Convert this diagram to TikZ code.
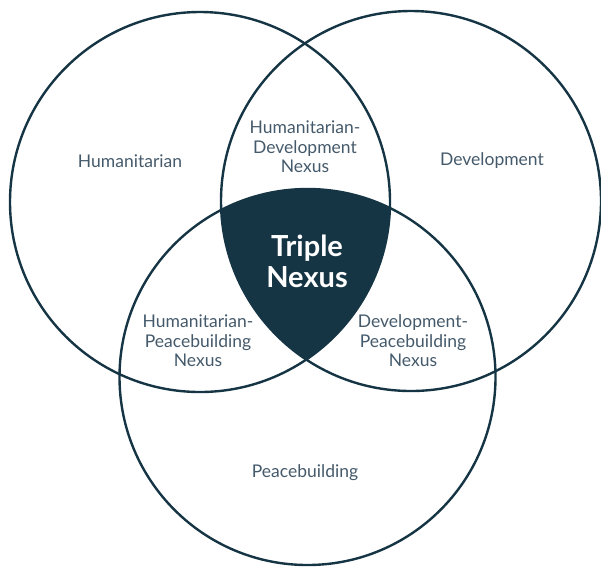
\documentclass[tikz,border=0pt]{standalone}
\usepackage{fontspec}
\setmainfont{Lato}
\definecolor{navy}{HTML}{163544}
\definecolor{txt}{HTML}{44596A}
\begin{document}
\begin{tikzpicture}[x=1pt,y=-1pt,
  ring/.style={draw=navy,line width=2.4pt},
  lbl/.style={text=txt,font=\fontsize{17.5}{19.5}\selectfont,align=center,inner sep=0pt},
  big/.style={text=white,font=\bfseries\fontsize{29}{31}\selectfont,align=center,inner sep=0pt}]
\useasboundingbox (0,0) rectangle (601,566);
\coordinate (cl) at (200,202);
\coordinate (cr) at (411,201);
\coordinate (cb) at (307.5,377);
\begin{scope}
  \clip (cl) circle (190);
  \clip (cr) circle (190);
  \fill[navy] (cb) circle (188);
\end{scope}
\draw[ring] (cl) circle (190);
\draw[ring] (cr) circle (190);
\draw[ring] (cb) circle (188);
\node[lbl] (hum) at (130,161) {Humanitarian};
\node[lbl] (dev) at (492,161) {Development};
\node[lbl] (pb) at (305,473) {Peacebuilding};
\node[lbl] (hd) at (305,147) {Humanitarian-\\Development\\Nexus};
\node[lbl] (hp) at (198,341) {Humanitarian-\\Peacebuilding\\Nexus};
\node[lbl] (dp) at (413,341) {Development-\\Peacebuilding\\Nexus};
\node[big] (tn) at (307,261) {Triple\\Nexus};
\end{tikzpicture}
\end{document}
